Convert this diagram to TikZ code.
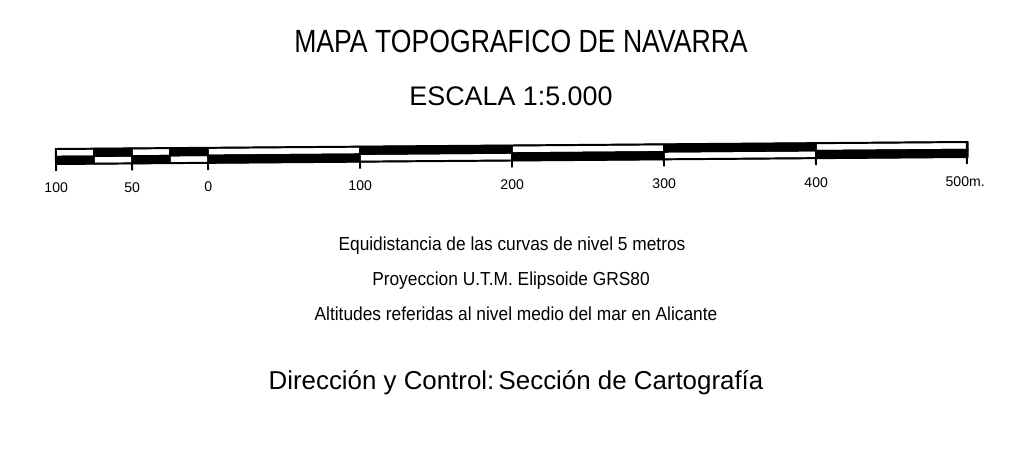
\documentclass[tikz,border=0pt]{standalone}
\usepackage{fontspec}
\setmainfont{Liberation Sans}
\newfontfamily\titlefont[FakeStretch=0.83]{Liberation Sans}
\newfontfamily\notefont[FakeStretch=0.92]{Liberation Sans}
\usetikzlibrary{positioning}

\begin{document}
\begin{tikzpicture}
[x=0.025cm,y=-0.025cm,
%
title/.style={anchor=base,inner sep=0pt,font=\titlefont\fontsize{22.8}{26}\selectfont},
scaletxt/.style={anchor=base,inner sep=0pt,font=\fontsize{19.1}{22}\selectfont},
note/.style={anchor=base,inner sep=0pt,font=\notefont\fontsize{13.4}{16}\selectfont},
credit/.style={anchor=base,inner sep=0pt,font=\fontsize{18.4}{22}\selectfont},
tick/.style={anchor=base,inner sep=0pt,font=\fontsize{10}{12}\selectfont},
%
cell/.style={draw=black,line width=1pt},
blackcell/.style={cell,fill=black},
barline/.style={draw=black,line width=1.4pt}]
%
\useasboundingbox (0,0) rectangle (1021,451);
%
% heading
\node (mapa) [title] at (521,53) {MAPA TOPOGRAFICO DE NAVARRA};
\node (escala) [scaletxt] at (511,106) {ESCALA 1:5.000};
%%
% graphic scale (slightly tilted)
\begin{scope}[rotate around={0.44:(56,164)}]
%% talon, 25 m cells
\foreach \i in {0,...,3} {
   \ifodd\i
      \path[blackcell] (56+38*\i,149) rectangle (94+38*\i,156.5);
      \path[cell] (56+38*\i,156.5) rectangle (94+38*\i,164);
   \else
      \path[cell] (56+38*\i,149) rectangle (94+38*\i,156.5);
      \path[blackcell] (56+38*\i,156.5) rectangle (94+38*\i,164);
   \fi
}
%% 100 m cells
\foreach \i in {0,...,4} {
   \ifodd\i
      \path[blackcell] (208+152*\i,149) rectangle (360+152*\i,156.5);
      \path[cell] (208+152*\i,156.5) rectangle (360+152*\i,164);
   \else
      \path[cell] (208+152*\i,149) rectangle (360+152*\i,156.5);
      \path[blackcell] (208+152*\i,156.5) rectangle (360+152*\i,164);
   \fi
}
\draw[barline] (56,149) rectangle (967,164);
%% ticks and figures
\foreach \x/\t/\n in {56/100/a,132/50/b,208/0/c,360/100/d,512/200/e,664/300/f,816/400/g} {
   \draw[barline] (\x,164) -- (\x,171);
   \node (fig\n) [tick] at (\x,193) {\t};
}
\draw[barline] (967,164) -- (967,171);
\node (figh) [tick] at (965,193) {500m.};
\end{scope}
%%
% notes
\node (equi) [note] at (512,251) {Equidistancia de las curvas de nivel 5 metros};
\node (proy) [note] at (511,286) {Proyeccion U.T.M. Elipsoide GRS80};
\node (alti) [note] at (516,321) {Altitudes referidas al nivel medio del mar en Alicante};
%%
% credit
\node (dir) [credit] at (516,390) {Dirección y Control:\,Sección de Cartografía};
\end{tikzpicture}
\end{document}
